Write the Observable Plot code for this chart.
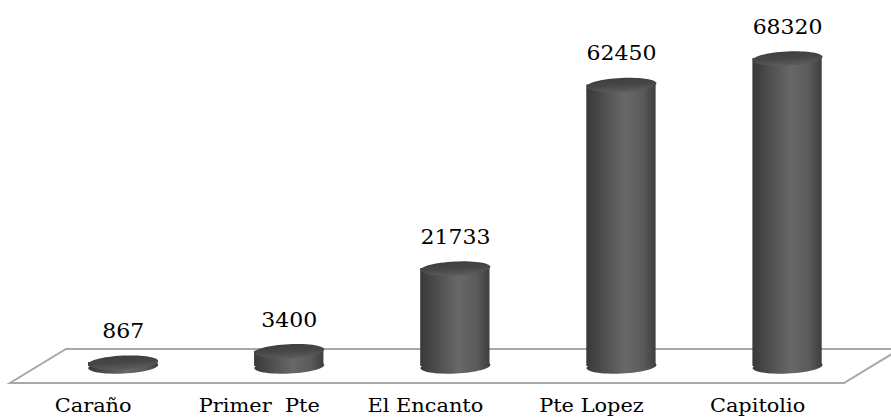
<!DOCTYPE html>
<html>
<head>
<meta charset="utf-8">
<script src="https://cdn.jsdelivr.net/npm/d3@7"></script>
<script src="https://cdn.jsdelivr.net/npm/@observablehq/plot@0.6"></script>
<style>
  html, body { margin: 0; padding: 0; background: #fff; }
  #chart svg, #chart svg text { font-family: "DejaVu Serif", serif !important; white-space: pre; }
</style>
</head>
<body>
<div id="chart"></div>
<script>
// ---- data ----
const categories = ["Caraño", "Primer  Pte", "El Encanto", "Pte Lopez", "Capitolio"];
const values = [867, 3400, 21733, 62450, 68320];
const valueLabels = ["867", "3400", "21733", "62450", "68320"];

const data = categories.map((c, i) => ({category: c, value: values[i], label: valueLabels[i]}));

// ---- layout (the original picture is slightly stretched horizontally) ----
const screenW = 891, H = 418;
const S = 1.1;
const W = Math.round(screenW / S);
const sx = screenW / W;
const xRange = [38 / sx, 872 / sx];
const yRange = [366, 58];
const yDomain = [0, 68320];
const rx = 35 / sx, ry = 7;
const tilt = -3 * Math.PI / 180;

const ellipse = {
  draw(ctx) {
    const n = 60;
    for (let k = 0; k <= n; ++k) {
      const t = (k / n) * 2 * Math.PI;
      const ex = rx * Math.cos(t), ey = ry * Math.sin(t);
      const px = ex * Math.cos(tilt) - ey * Math.sin(tilt);
      const py = ex * Math.sin(tilt) + ey * Math.cos(tilt);
      if (k === 0) ctx.moveTo(px, py); else ctx.lineTo(px, py);
    }
    ctx.closePath();
  }
};

const yLin = d3.scaleLinear(yDomain, yRange);

function floor() {
  const y0 = yLin(0), d = 17, sk = 28 / sx;
  const [l, r] = xRange;
  const pts = [[l + sk, y0 - d], [r + sk, y0 - d], [r - sk, y0 + d], [l - sk, y0 + d]];
  const p = document.createElementNS("http://www.w3.org/2000/svg", "path");
  p.setAttribute("d", "M" + pts.map(q => q.join(",")).join("L") + "Z");
  p.setAttribute("fill", "#ffffff");
  p.setAttribute("stroke", "#a8a8a8");
  p.setAttribute("stroke-width", "2");
  p.setAttribute("vector-effect", "non-scaling-stroke");
  return p;
}

const font = "DejaVu Serif";

const chart = Plot.plot({
  width: W,
  height: H,
  marginTop: 0, marginBottom: 0, marginLeft: 0, marginRight: 0,
  style: {fontFamily: font, background: "#fff"},
  x: {domain: categories, range: xRange, paddingInner: 0.58, paddingOuter: 0.29, axis: null},
  y: {domain: yDomain, range: yRange, axis: null},
  marks: [
    floor,
    Plot.dot(data, {x: "category", y: () => 0, symbol: ellipse, r: 5, fill: "url(#cylBody)", stroke: "none"}),
    Plot.barY(data, {x: "category", y1: () => 0, y2: "value", fill: "url(#cylBody)"}),
    Plot.dot(data, {x: "category", y: "value", symbol: ellipse, r: 5, fill: "url(#cylTop)", stroke: "none"}),
    Plot.text(data, {x: "category", y: "value", text: "label", dy: -31, fontSize: 20, fill: "#000", fontFamily: font}),
    Plot.text(data, {x: "category", y: () => 0, text: "category", dy: 39, dx: -30 / sx, fontSize: 19, fill: "#000", fontFamily: font})
  ]
});

// gradients for the 3-D cylinders
const ns = "http://www.w3.org/2000/svg";
const defs = document.createElementNS(ns, "defs");
function grad(id, x2, y2, stops) {
  const g = document.createElementNS(ns, "linearGradient");
  g.setAttribute("id", id);
  g.setAttribute("x1", "0"); g.setAttribute("y1", "0");
  g.setAttribute("x2", x2); g.setAttribute("y2", y2);
  for (const [o, c] of stops) {
    const s = document.createElementNS(ns, "stop");
    s.setAttribute("offset", o);
    s.setAttribute("stop-color", c);
    g.appendChild(s);
  }
  defs.appendChild(g);
}
grad("cylBody", "1", "0", [["0", "#383838"], ["0.12", "#434343"], ["0.55", "#686868"], ["0.82", "#5a5a5a"], ["1", "#3e3e3e"]]);
grad("cylTop", "0.3", "1", [["0", "#3c3c3c"], ["0.6", "#474747"], ["1", "#5a5a5a"]]);
chart.insertBefore(defs, chart.firstChild);

chart.setAttribute("width", screenW);
chart.setAttribute("height", H);
chart.setAttribute("preserveAspectRatio", "none");
chart.style.width = screenW + "px";
chart.style.height = H + "px";
chart.style.maxWidth = "none";
chart.style.display = "block";

document.getElementById("chart").appendChild(chart);
</script>
</body>
</html>
